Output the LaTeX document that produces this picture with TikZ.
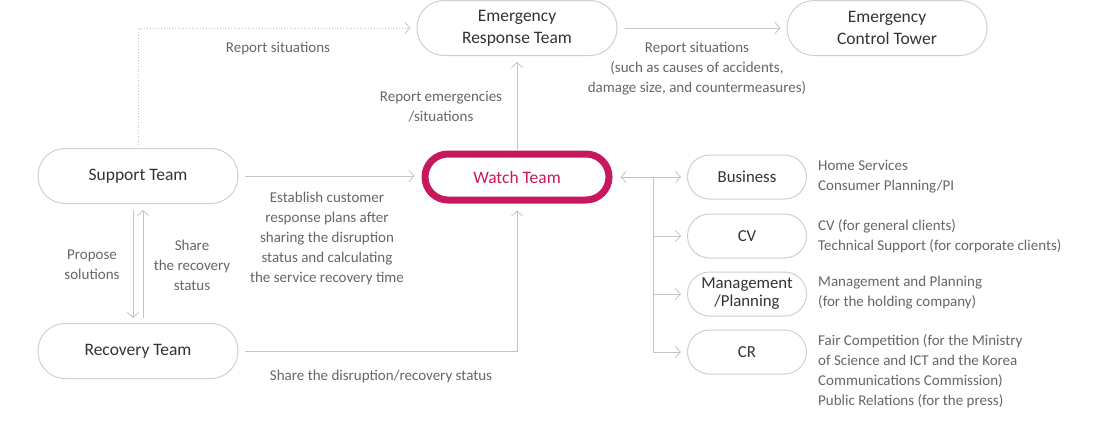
\documentclass[tikz,border=0pt]{standalone}
\usepackage{fontspec}
\setmainfont{Carlito}
\usetikzlibrary{arrows.meta}
\definecolor{boxline}{HTML}{D0D0D0}
\definecolor{arrowgray}{HTML}{C4C4C4}
\definecolor{watchred}{HTML}{C8175D}
\definecolor{boxtext}{HTML}{333333}
\definecolor{labeltext}{HTML}{666666}
\tikzset{
 team/.style={draw=boxline, line width=1pt, rounded corners=27pt, minimum width=200pt, minimum height=55pt,
   text=boxtext, font=\fontsize{17.5}{22}\selectfont, align=center, inner sep=0},
 unit/.style={team, rounded corners=22pt, minimum width=119pt, minimum height=44pt, font=\fontsize{16.8}{18}\selectfont},
 lbl/.style={text=labeltext, font=\fontsize{15}{20}\selectfont, align=center, inner sep=0},
 desc/.style={lbl, align=left, anchor=west},
 barb/.tip={Straight Barb[length=5pt,width=11pt]},
 link/.style={draw=arrowgray, line width=0.8pt, -barb},
}

\begin{document}
\begin{tikzpicture}[x=1pt,y=-1pt]
\useasboundingbox (0,0) rectangle (1100,431);
% teams
\node[team] (ert) at (517,28) {Emergency\\Response Team};
\node[team] (ect) at (887,28) {Emergency\\Control Tower};
\node[team] (support) at (138,176) {Support Team};
\node[team] (recovery) at (138,351) {Recovery Team};
\node[team, draw=watchred, line width=7pt, minimum width=184pt, minimum height=46pt,
  rounded corners=23pt, text=watchred] (watch) at (517,177) {Watch Team};
\foreach \name/\y/\txt in {business/177/Business, cv/236/CV, mgmt/294/{Management\\/Planning}, cr/352/CR}
 \node[unit] (\name) at (747,\y) {\txt};
\coordinate (hub) at (653,177);

% connectors
\draw[link, shorten <=7pt, shorten >=6pt] (ert) -- (ect);
\draw[link, dotted, shorten <=3pt, shorten >=6pt] (support.north) |- (ert.west);
\draw[link, shorten >=6pt] (watch.north) -- (ert.south);
\draw[link, shorten <=6pt, shorten >=7pt] (support.east) -- (support.east -| watch.west);
\draw[link, shorten <=6pt, shorten >=7pt] (recovery.east) -| (watch.south);
\draw[link, shorten <=6pt, shorten >=5pt] ([xshift=-5pt]support.south) -- ([xshift=-5pt]recovery.north);
\draw[link, shorten <=5pt, shorten >=6pt] ([xshift=5pt]recovery.north) -- ([xshift=5pt]support.south);
\draw[link, barb-barb, shorten <=8pt, shorten >=6pt] (watch.east) -- (business.west);
\draw[draw=arrowgray, line width=0.8pt] (hub) -- (hub |- cr.west);
\foreach \u in {cv, mgmt, cr}
 \draw[link, shorten >=6pt] (hub |- \u.west) -- (\u.west);

% labels
\node[lbl] (lsit) at (278,49) {Report situations};
\node[lbl] (lcause) at (697,69) {Report situations\\(such as causes of accidents,\\damage size, and countermeasures)};
\node[lbl] (lemerg) at (441,107) {Report emergencies\\/situations};
\node[lbl] (lplan) at (327,238) {Establish customer\\response plans after\\sharing the disruption\\status and calculating\\the service recovery time};
\node[lbl] (lpropose) at (92,265) {Propose\\solutions};
\node[lbl] (lshare) at (192,265) {Share\\the recovery\\status};
\node[lbl] (lstatus) at (381,376) {Share the disruption/recovery status};
\node[desc] (dbusiness) at (818,177) {Home Services\\Consumer Planning/PI};
\node[desc] (dcv) at (818,236) {CV (for general clients)\\Technical Support (for corporate clients)};
\node[desc] (dmgmt) at (818,293) {Management and Planning\\(for the holding company)};
\node[desc] (dcr) at (818,371) {Fair Competition (for the Ministry\\of Science and ICT and the Korea\\Communications Commission)\\Public Relations (for the press)};
\end{tikzpicture}
\end{document}
